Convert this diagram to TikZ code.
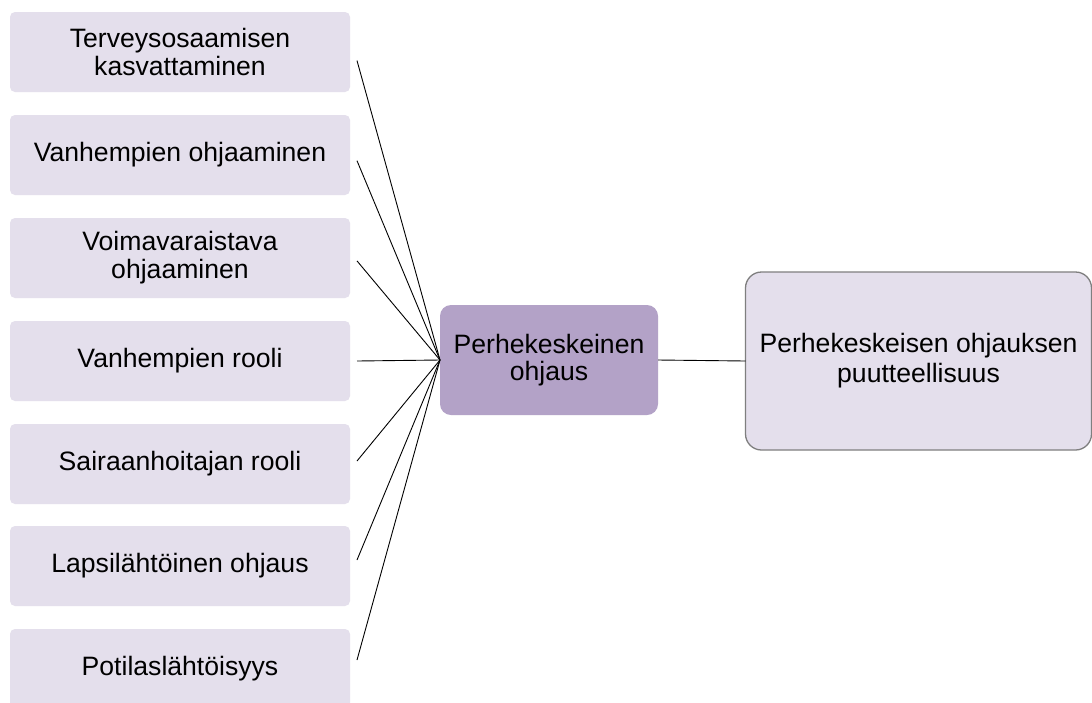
\documentclass[tikz,border=0pt]{standalone}
\usepackage{fontspec}
\setmainfont{Liberation Sans}
\definecolor{lightlav}{HTML}{E4DFEC}
\definecolor{midlav}{HTML}{B3A2C7}
\definecolor{edgegray}{HTML}{7F7F7F}
\tikzset{
  itembox/.style={fill=lightlav, rounded corners=5pt, minimum width=340pt, minimum height=80pt,
    inner sep=0pt, outer sep=0pt, align=center, font=\fontsize{26.6}{28}\selectfont},
  hubbox/.style={fill=midlav, rounded corners=11pt, minimum width=218pt, minimum height=110pt,
    inner sep=0pt, outer sep=0pt, align=center, font=\fontsize{26.6}{27}\selectfont},
  resultbox/.style={fill=lightlav, draw=edgegray, line width=1.3pt, rounded corners=16pt,
    minimum width=346pt, minimum height=178pt, inner sep=0pt, outer sep=0pt, align=center,
    font=\fontsize{26.6}{30}\selectfont},
  link/.style={draw=black, line width=0.9pt}
}
\begin{document}
\begin{tikzpicture}[x=1pt,y=-1pt]
\useasboundingbox (0,0) rectangle (1092,702);
\clip (0,0) rectangle (1092,702);
\fill[white] (0,0) rectangle (1092,702);

% left column of topics
\node[itembox] (b1) at (180,52)  {Terveysosaamisen\\kasvattaminen};
\node[itembox] (b2) at (180,155) {Vanhempien ohjaaminen};
\node[itembox] (b3) at (180,258) {Voimavaraistava\\ohjaaminen};
\node[itembox] (b4) at (180,361) {Vanhempien rooli};
\node[itembox] (b5) at (180,464) {Sairaanhoitajan rooli};
\node[itembox] (b6) at (180,566) {Lapsil\"aht\"oinen ohjaus};
\node[itembox] (b7) at (180,669) {Potilasl\"aht\"oisyys};

% central theme and result
\node[hubbox] (c) at (549,360) {Perhekeskeinen\\ohjaus};
\node[resultbox] (r) at (918.5,361) {Perhekeskeisen ohjauksen\\puutteellisuus};

% connector start points just right of each topic box
\coordinate (s1) at (357,60.6);
\coordinate (s2) at (357,160.7);
\coordinate (s3) at (357,260.9);
\coordinate (s4) at (357,361);
\coordinate (s5) at (357,461);
\coordinate (s6) at (357,560);
\coordinate (s7) at (357,660);

\foreach \i in {1,...,7} {
  \draw[link] (s\i) -- (c.west);
}
\draw[link] (c.east) -- (r.west);
\end{tikzpicture}
\end{document}
